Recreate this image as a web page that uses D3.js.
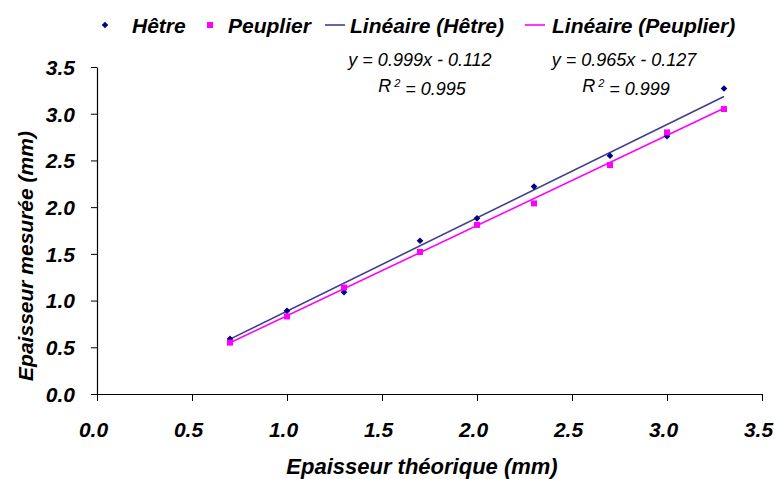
<!DOCTYPE html>
<html><head><meta charset="utf-8">
<script src="https://cdn.jsdelivr.net/npm/d3@7"></script>
<style>
body{margin:0;background:#fff;}
svg text{font-family:"Liberation Sans",Arial,sans-serif;}
</style></head>
<body><svg id="chart" width="774" height="479"></svg>
<script>
const xTicks = [0.0,0.5,1.0,1.5,2.0,2.5,3.0,3.5];
const yTicks = [0.0,0.5,1.0,1.5,2.0,2.5,3.0,3.5];
const thickness = [0.7,1.0,1.3,1.7,2.0,2.3,2.7,3.0,3.3];
const hetre = [0.59,0.89,1.09,1.64,1.88,2.22,2.55,2.76,3.27];
const peuplier = [0.55,0.83,1.14,1.52,1.81,2.04,2.45,2.80,3.05];
const seriesNames = ["Hêtre","Peuplier","Linéaire (Hêtre)","Linéaire (Peuplier)"];
const slopes = [0.999,0.965];
const intercepts = [-0.112,-0.127];
const r2 = [0.995,0.999];
const xTitle = "Epaisseur théorique (mm)";
const yTitle = "Epaisseur mesurée (mm)";

const svg = d3.select("#chart");
const x = d3.scaleLinear().domain([0,3.5]).range([97,762]);
const y = d3.scaleLinear().domain([0,3.5]).range([394,67]);
const navy = "#000080", navyLine = "#3f3f8f", pink = "#ff00ff";

// axes
const gx = svg.append("g").attr("transform","translate(0,394)")
  .call(d3.axisBottom(x).tickValues(xTicks).tickSize(7).tickSizeOuter(0).tickFormat(d3.format(".1f")));
const gy = svg.append("g").attr("transform","translate(97,0)")
  .call(d3.axisLeft(y).tickValues(yTicks).tickSize(6).tickSizeOuter(0).tickFormat(d3.format(".1f")));
[gx,gy].forEach(g=>{
  g.select(".domain").attr("stroke","#000").attr("stroke-width",1.2);
  g.selectAll(".tick line").attr("stroke","#000").attr("stroke-width",1);
  g.selectAll(".tick text").attr("fill","#000").style("font-size","21px")
    .style("font-weight","bold").style("font-style","italic").style("font-family","'Liberation Sans',Arial,sans-serif");
});
gx.selectAll(".tick text").attr("y",36).attr("dx",-4).attr("dy","0.35em");
gy.selectAll(".tick text").attr("x",-22).attr("dy","0.35em");

// titles
svg.append("text").attr("x",422).attr("y",466).attr("text-anchor","middle").attr("dy","0.35em")
  .style("font-size","22px").style("font-weight","bold").style("font-style","italic").text(xTitle);
svg.append("text").attr("transform","translate(26,256) rotate(-90)").attr("text-anchor","middle").attr("dy","0.35em")
  .style("font-size","21px").style("font-weight","bold").style("font-style","italic").text(yTitle);

// trend lines
const lineColors = [navyLine, pink];
const xr = d3.extent(thickness);
[0,1].forEach(i=>{
  svg.append("line")
    .attr("x1",x(xr[0])).attr("y1",y(slopes[i]*xr[0]+intercepts[i]))
    .attr("x2",x(xr[1])).attr("y2",y(slopes[i]*xr[1]+intercepts[i]))
    .attr("stroke",lineColors[i]).attr("stroke-width",1.6);
});

// points
const diamond = d3.symbol().type(d3.symbolSquare).size(22);
svg.append("g").selectAll("path").data(thickness).join("path")
  .attr("d",diamond).attr("transform",(d,i)=>`translate(${x(d)},${y(hetre[i])}) rotate(45)`).attr("fill",navy);
svg.append("g").selectAll("rect").data(thickness).join("rect")
  .attr("x",d=>x(d)-3).attr("y",(d,i)=>y(peuplier[i])-3).attr("width",6).attr("height",6).attr("fill",pink);

// legend
const lg = svg.append("g");
lg.append("path").attr("d",diamond).attr("transform","translate(105,25) rotate(45)").attr("fill",navy);
lg.append("rect").attr("x",207).attr("y",22).attr("width",6).attr("height",6).attr("fill",pink);
lg.append("line").attr("x1",325).attr("x2",345).attr("y1",25).attr("y2",25).attr("stroke",navyLine).attr("stroke-width",1.6);
lg.append("line").attr("x1",525).attr("x2",545).attr("y1",25).attr("y2",25).attr("stroke",pink).attr("stroke-width",1.6);
const lx = [132,228,350,552];
seriesNames.forEach((n,i)=>{
  lg.append("text").attr("x",lx[i]).attr("y",26).attr("dy","0.35em")
    .style("font-size","21px").style("font-weight","bold").style("font-style","italic").text(n);
});

// equations
const eqX = [420,624];
[0,1].forEach(i=>{
  const s = intercepts[i] < 0 ? " - " : " + ";
  svg.append("text").attr("x",eqX[i]).attr("y",60).attr("text-anchor","middle").attr("dy","0.35em")
    .style("font-size","18px").style("font-style","italic")
    .text(`y = ${slopes[i].toFixed(3)}x${s}${Math.abs(intercepts[i]).toFixed(3)}`);
  const t = svg.append("text").attr("x",eqX[i]+2).attr("y",86).attr("text-anchor","middle").attr("dy","0.35em")
    .style("font-size","18px").style("font-style","italic");
  t.append("tspan").text("R");
  t.append("tspan").attr("dy","-0.45em").style("font-size","11px").text(" 2");
  t.append("tspan").attr("dy","0.45em").text(" = " + r2[i].toFixed(3));
});
</script></body></html>
